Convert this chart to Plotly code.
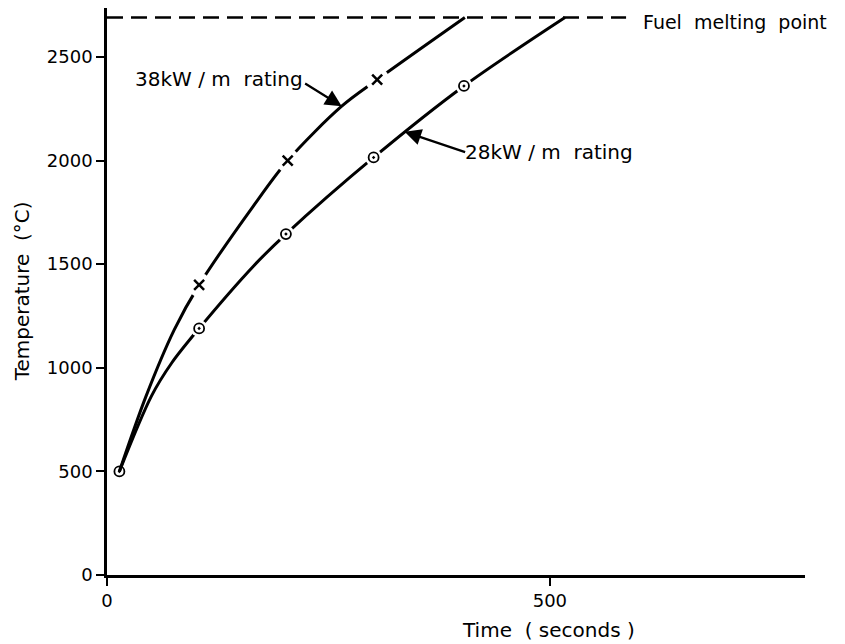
import plotly.graph_objects as go

# ---- data ----
melt_temp = 2690

# 38 kW/m curve
c38_x = [14, 44, 76, 104, 165, 204, 265, 305, 404]
c38_y = [500, 862, 1184, 1400, 1779, 2000, 2262, 2390, 2690]
# 28 kW/m curve
c28_x = [14, 50, 73, 104, 165, 202, 301, 403, 517]
c28_y = [500, 862, 1023, 1190, 1489, 1645, 2015, 2360, 2690]

# measured points
m38_x = [104, 204, 305]
m38_y = [1400, 2000, 2390]
m28_x = [14, 104, 202, 301, 403]
m28_y = [500, 1190, 1645, 2015, 2360]

melt_x = [0, 586]

x_ticks = [0, 500]
y_ticks = [0, 500, 1000, 1500, 2000, 2500]

FONT = "DejaVu Sans"

fig = go.Figure()

# melting point dashed line
fig.add_trace(go.Scatter(x=melt_x, y=[melt_temp, melt_temp], mode="lines",
                         line=dict(color="black", width=2.5, dash="16px,8px"),
                         hoverinfo="skip", showlegend=False))
# curves
for cx, cy in [(c38_x, c38_y), (c28_x, c28_y)]:
    fig.add_trace(go.Scatter(x=cx, y=cy, mode="lines",
                             line=dict(color="black", width=3, shape="spline", smoothing=0.9),
                             showlegend=False))
# white gaps around markers
fig.add_trace(go.Scatter(x=m38_x, y=m38_y, mode="markers",
                         marker=dict(symbol="circle", size=24, color="white"),
                         showlegend=False, hoverinfo="skip"))
fig.add_trace(go.Scatter(x=m28_x[1:], y=m28_y[1:], mode="markers",
                         marker=dict(symbol="circle", size=17, color="white"),
                         showlegend=False, hoverinfo="skip"))
# markers
fig.add_trace(go.Scatter(x=m38_x, y=m38_y, mode="markers",
                         marker=dict(symbol="x-thin", size=10, color="black",
                                     line=dict(color="black", width=2.5)),
                         showlegend=False))
fig.add_trace(go.Scatter(x=m28_x, y=m28_y, mode="markers",
                         marker=dict(symbol="circle-open-dot", size=10, color="black",
                                     line=dict(color="black", width=1.8)),
                         showlegend=False))

annots = [
    dict(x=603, y=melt_temp, xref="x", yref="y", text="Fuel\u00a0 melting\u00a0 point",
         showarrow=False, xanchor="left", yanchor="middle", yshift=-4,
         font=dict(size=19)),
    dict(x=126, y=2395, xref="x", yref="y", text="38kW / m\u00a0 rating",
         showarrow=False, xanchor="center", yanchor="middle", font=dict(size=20)),
    dict(x=499, y=2041, xref="x", yref="y", text="28kW / m\u00a0 rating",
         showarrow=False, xanchor="center", yanchor="middle", font=dict(size=20)),
    # arrows
    dict(x=265, y=2262, ax=222, ay=2376, xref="x", yref="y", axref="x", ayref="y",
         text="", showarrow=True, arrowhead=2, arrowsize=1.5, arrowwidth=2.2,
         arrowcolor="black", standoff=0, startstandoff=0),
    dict(x=336, y=2139, ax=406, ay=2038, xref="x", yref="y", axref="x", ayref="y",
         text="", showarrow=True, arrowhead=2, arrowsize=1.5, arrowwidth=2.2,
         arrowcolor="black", standoff=0, startstandoff=0),
    # axis titles
    dict(x=498, y=-0.0964, xref="x", yref="paper", text="Time\u00a0 (\u00a0seconds\u00a0)",
         showarrow=False, xanchor="center", yanchor="middle", font=dict(size=20)),
    dict(x=-0.122, y=0.5, xref="paper", yref="paper", text="Temperature\u00a0 (°C)",
         showarrow=False, textangle=-90, xanchor="center", yanchor="middle",
         font=dict(size=20)),
]

fig.update_layout(
    width=845, height=644,
    margin=dict(l=99, r=48, t=0, b=77),
    paper_bgcolor="white", plot_bgcolor="white",
    font=dict(family=FONT, color="black", size=18),
    annotations=annots,
    showlegend=False,
)
fig.update_xaxes(range=[0, 788], tickvals=x_ticks, ticks="outside", ticklen=8,
                 tickwidth=2.2, tickcolor="black", showline=True, linecolor="black",
                 linewidth=2.5, showgrid=False, zeroline=False,
                 tickfont=dict(size=18, family=FONT))
fig.update_yaxes(range=[0, 2736], tickvals=y_ticks, ticks="outside", ticklen=8,
                 tickwidth=2.2, tickcolor="black", showline=True, linecolor="black",
                 linewidth=2.5, showgrid=False, zeroline=False,
                 tickfont=dict(size=18, family=FONT))

fig.write_html("out.html")
